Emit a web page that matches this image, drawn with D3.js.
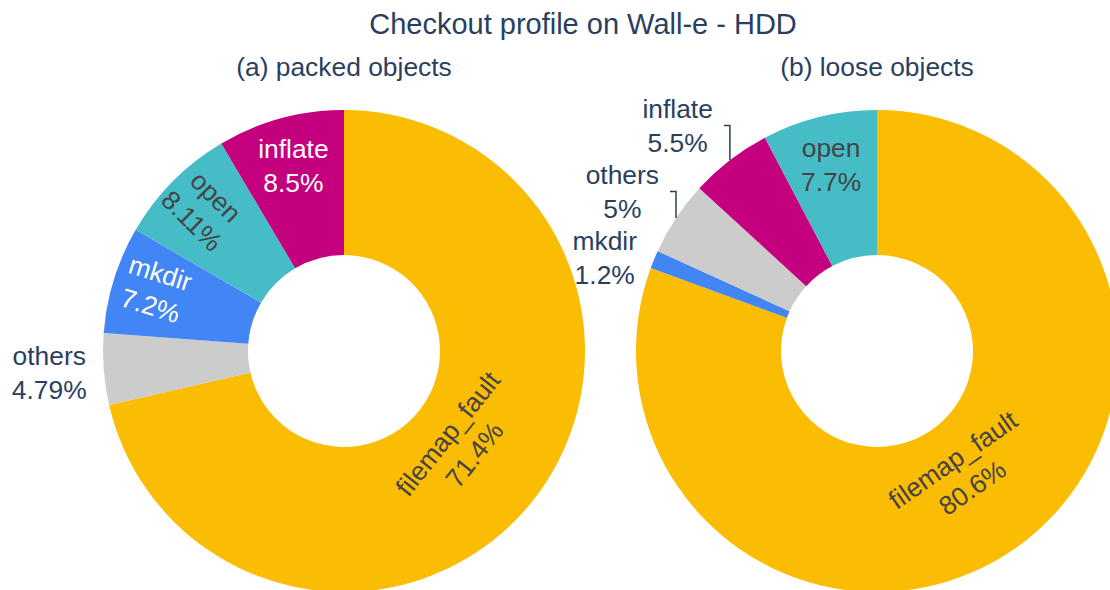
<!DOCTYPE html>
<html>
<head>
<meta charset="utf-8">
<script src="https://cdn.jsdelivr.net/npm/d3@7"></script>
<style>
  body { margin: 0; background: #fff; }
  text { font-family: "Liberation Sans", Arial, sans-serif; }
</style>
</head>
<body>
<script>
// data
var labelsA = ["filemap_fault", "others", "mkdir", "open", "inflate"];
var valuesA = [71.4, 4.79, 7.2, 8.11, 8.5];
var labelsB = ["filemap_fault", "mkdir", "others", "inflate", "open"];
var valuesB = [80.6, 1.2, 5, 5.5, 7.7];
var titles = ["(a) packed objects", "(b) loose objects"];

// text orientation per slice: t = tangential, r = radial, h = horizontal, out = outside
var modeA = ["t", "out", "r", "r", "h"];
var modeB = ["t", "out", "out", "out", "h"];

var width = 1110, height = 590,
    cy = 351, rOut = 241, rIn = 96,
    fontSize = 26.4, lineGap = 34;

var color = d3.scaleOrdinal()
    .domain(["filemap_fault", "inflate", "open", "mkdir", "others"])
    .range(["#FBBC04", "#C5007F", "#46BDC6", "#4285F4", "#CCCCCC"]);
var darkText = { filemap_fault: true, open: true, others: true };

var svg = d3.select("body").append("svg")
    .attr("width", width)
    .attr("height", height);

svg.append("text")
    .attr("x", 583).attr("y", 34)
    .attr("text-anchor", "middle")
    .style("font-size", "29px")
    .style("fill", "#2a3f5f")
    .text("Checkout profile on Wall-e - HDD");

var arc = d3.arc().innerRadius(rIn).outerRadius(rOut);

var pie = d3.pie()
    .sort(null)
    .value(function(d) { return d.value; });

function twoLines(sel, a, b) {
  sel.append("tspan").attr("x", 0).attr("y", -lineGap / 2 + 9.2).text(a);
  sel.append("tspan").attr("x", 0).attr("y", lineGap / 2 + 9.2).text(b);
}

function drawDonut(cx, labels, values, modes, title) {
  var data = labels.map(function(l, i) { return { label: l, value: values[i], mode: modes[i] }; });

  svg.append("text")
      .attr("x", cx).attr("y", 76)
      .attr("text-anchor", "middle")
      .style("font-size", fontSize + "px")
      .style("fill", "#2a3f5f")
      .text(title);

  var g = svg.append("g").attr("transform", "translate(" + cx + "," + cy + ")");

  var arcs = pie(data);

  g.selectAll("path")
      .data(arcs)
    .enter().append("path")
      .attr("d", arc)
      .style("fill", function(d) { return color(d.data.label); });

  // inside labels
  arcs.filter(function(d) { return d.data.mode != "out"; }).forEach(function(d) {
    var a = (d.startAngle + d.endAngle) / 2,
        deg = a * 180 / Math.PI,
        f = d.data.mode == "t" ? 0.37 : (d.data.mode == "r" ? 0.7 : 0.66),
        r = rIn + f * (rOut - rIn),
        rot = 0;
    if (d.data.mode == "r") {
      rot = deg - 90;
      if (rot > 90) rot -= 180;
    } else if (d.data.mode == "t") {
      rot = deg;
      if (rot > 90 && rot < 270) rot -= 180;
      else if (rot >= 270) rot -= 360;
    }
    var t = g.append("text")
        .attr("transform", "translate(" + (r * Math.sin(a)) + "," + (-r * Math.cos(a) - (d.data.mode == "r" ? 3 : 0)) + ") rotate(" + rot + ")")
        .attr("text-anchor", "middle")
        .style("font-size", fontSize + "px")
        .style("fill", darkText[d.data.label] ? "#444444" : "#ffffff");
    twoLines(t, d.data.label, d.data.value + "%");
  });

  // outside labels, stacked upward from the lowest one
  var outs = arcs.filter(function(d) { return d.data.mode == "out"; }).map(function(d) {
    var a = (d.startAngle + d.endAngle) / 2;
    return { d: d, a: a, ax: rOut * Math.sin(a), ay: -rOut * Math.cos(a) };
  });
  outs.sort(function(p, q) { return q.ay - p.ay; });
  var prev = null;
  outs.forEach(function(o) {
    o.ly = o.ay + 2.5 - 12 * Math.cos(o.a);
    if (prev != null && o.ly > prev - 66) o.ly = prev - 66;
    prev = o.ly;

    var lg = g.append("g");
    var t = lg.append("text")
        .attr("text-anchor", "middle")
        .style("font-size", fontSize + "px")
        .style("fill", "#2a3f5f");
    twoLines(t, o.d.data.label, o.d.data.value + "%");
    var w = t.node().getBBox().width;
    lg.attr("transform", "translate(" + (o.ax - 17 - w / 2) + "," + o.ly + ")");

    if (Math.abs(o.ly - o.ay) > 6) {
      g.append("path")
          .attr("d", "M" + o.ax + "," + o.ay + "L" + o.ax + "," + o.ly + "L" + (o.ax - 6) + "," + o.ly)
          .style("fill", "none")
          .style("stroke", "#2a3f5f")
          .style("stroke-width", 1.5);
    }
  });
}

drawDonut(344, labelsA, valuesA, modeA, titles[0]);
drawDonut(877, labelsB, valuesB, modeB, titles[1]);
</script>
</body>
</html>
